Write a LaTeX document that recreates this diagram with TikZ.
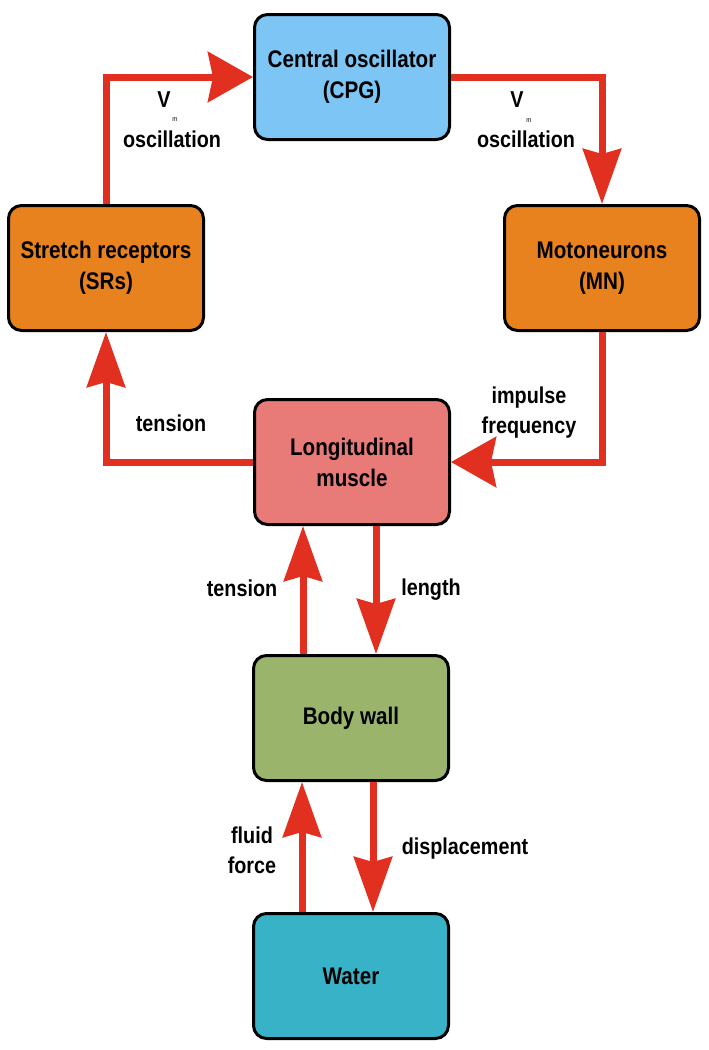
\documentclass[tikz,border=0pt]{standalone}
\usepackage{fontspec}
\setmainfont{Liberation Sans}[FakeStretch=0.86]
\usetikzlibrary{arrows.meta}
\definecolor{cpgblue}{RGB}{125,197,245}
\definecolor{boxorange}{RGB}{232,130,30}
\definecolor{musclepink}{RGB}{232,122,120}
\definecolor{wallgreen}{RGB}{154,180,108}
\definecolor{waterteal}{RGB}{55,178,198}
\definecolor{arrred}{RGB}{225,48,31}
\begin{document}
\begin{tikzpicture}[x=1pt,y=-1pt,
  box/.style={draw=black, line width=3pt, rounded corners=13pt, minimum width=195pt, minimum height=125pt, align=center, font=\fontsize{24}{31}\selectfont\bfseries},
  lbl/.style={font=\fontsize{23}{30}\selectfont\bfseries, align=center},
  subm/.style={font=\fontsize{7}{8}\selectfont},
  varr/.style={draw=arrred, line width=7pt, line join=miter, -{Stealth[length=55pt,width=38pt,inset=5pt]}},
  harr/.style={draw=arrred, line width=7pt, line join=miter, -{Stealth[length=45pt,width=50pt,inset=5pt]}}]
\useasboundingbox (0,0) rectangle (709,1050);
\fill[white] (0,0) rectangle (709,1050);

\node[box, fill=cpgblue] (cpg) at (352,77) {Central oscillator\\(CPG)};
\node[box, fill=boxorange] (sr) at (106,268) {Stretch receptors\\(SRs)};
\node[box, fill=boxorange] (mn) at (602,268) {Motoneurons\\(MN)};
\node[box, fill=musclepink] (lm) at (352,462) {Longitudinal\\muscle};
\node[box, fill=wallgreen] (bw) at (351,718) {Body wall};
\node[box, fill=waterteal] (wa) at (351,976) {Water};

% loop connectors
\draw[harr] (sr) |- (cpg);
\draw[varr] (cpg) -| (mn);
\draw[harr] (mn) |- (lm);
\draw[varr] (lm) -| (sr);

% vertical connectors
\draw[varr] (bw.north -| 303,0) -- (lm.south -| 303,0);
\draw[varr] (lm.south -| 376,0) -- (bw.north -| 376,0);
\draw[varr] (wa.north -| 302,0) -- (bw.south -| 302,0);
\draw[varr] (bw.south -| 373,0) -- (wa.north -| 373,0);

% labels
\node[lbl] (v1) at (164,100) {V};
\node[subm] (m1) at (175,120) {m};
\node[lbl] (o1) at (172,139) {oscillation};
\node[lbl] (v2) at (517,100) {V};
\node[subm] (m2) at (529,121) {m};
\node[lbl] (o2) at (526,139) {oscillation};
\node[lbl] (t1) at (171,423) {tension};
\node[lbl] (imp) at (529,413) {impulse\\frequency};
\node[lbl] (t2) at (242,588) {tension};
\node[lbl] (len) at (431,590) {length};
\node[lbl] (ff) at (252,850) {fluid\\force};
\node[lbl] (disp) at (465,849) {displacement};
\end{tikzpicture}
\end{document}
